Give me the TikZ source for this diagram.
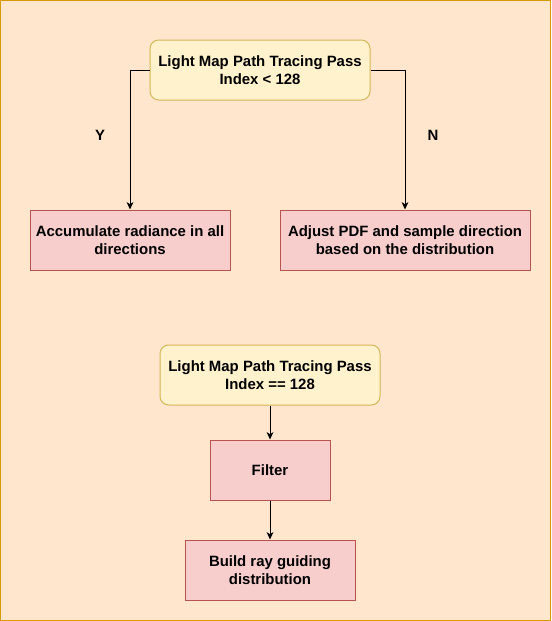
\documentclass[tikz,border=0pt]{standalone}
\usepackage{fontspec}
\setmainfont{Liberation Sans}
\usetikzlibrary{arrows.meta}
\definecolor{bgfill}{HTML}{FFE6CC}
\definecolor{bgline}{HTML}{D79B00}
\definecolor{yfill}{HTML}{FFF2CC}
\definecolor{yline}{HTML}{D6B656}
\definecolor{rfill}{HTML}{F8CECC}
\definecolor{rline}{HTML}{B85450}
\tikzset{
  every node/.style={font=\bfseries\fontsize{11.2}{13.5}\selectfont, align=center, inner sep=0pt},
  decision/.style={draw=yline, fill=yfill, line width=0.75pt, rounded corners=6.5pt, minimum width=165pt, minimum height=45pt},
  process/.style={draw=rline, fill=rfill, line width=0.75pt, minimum height=45pt},
  conn/.style={draw=black, line width=0.75pt, -{Stealth[length=5.5pt,width=5pt,inset=1.5pt]}},
  lbl/.style={font=\bfseries\fontsize{11.2}{13.5}\selectfont}
}
\begin{document}
\begin{tikzpicture}[x=0.75pt,y=-0.75pt]
\useasboundingbox (0,0) rectangle (551,621);
\draw[fill=bgfill, draw=bgline, line width=1.2pt] (0.6,0.6) rectangle (550.4,620.4);
\node[decision] (top) at (260,70) {Light Map Path Tracing Pass\\Index < 128};
\node[process, minimum width=150pt] (acc) at (130,240) {Accumulate radiance in all\\directions};
\node[process, minimum width=187.5pt] (adj) at (405,240) {Adjust PDF and sample direction\\based on the distribution};
\node[decision] (bot) at (270,375) {Light Map Path Tracing Pass\\Index == 128};
\node[process, minimum width=90pt] (filt) at (270,470) {Filter};
\node[process, minimum width=127.5pt] (build) at (270,570) {Build ray guiding\\distribution};
\node[lbl] (ylab) at (100,135) {Y};
\node[lbl] (nlab) at (433,135) {N};
\draw[conn] (top.west) -| (acc.north);
\draw[conn] (top.east) -| (adj.north);
\draw[conn] (bot.south) -- (filt.north);
\draw[conn] (filt.south) -- (build.north);
\end{tikzpicture}
\end{document}
